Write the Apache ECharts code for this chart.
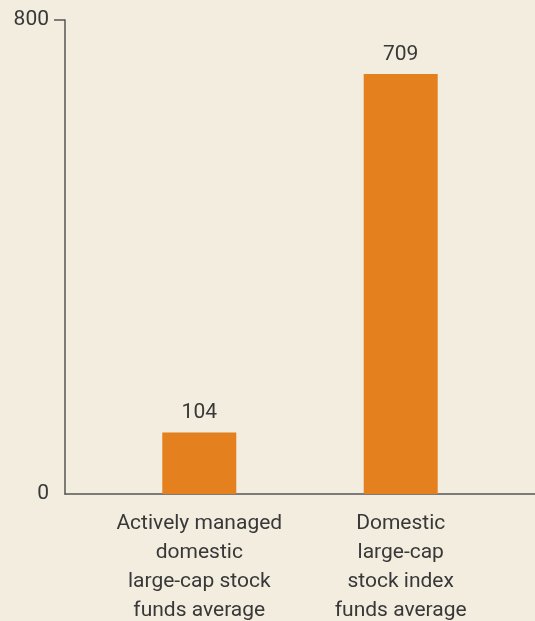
<!DOCTYPE html>
<html style="height: 100%">
<head>
    <meta charset="UTF-8">
    <title>Fund averages</title>
    <script src="https://cdn.jsdelivr.net/npm/echarts@6/dist/echarts.min.js"></script>
</head>
<body style="height: 100%; margin: 0; background: #f3ede0;">
    <div id="main" style="width: 535px; height: 621px;"></div>
    <script>
        // data
        var categories = [
            'Actively managed\ndomestic\nlarge-cap stock\nfunds average',
            'Domestic\nlarge-cap\nstock index\nfunds average'
        ];
        var values = [104, 709];
        // where each bar sits on the hidden x scale (0 .. 3.5)
        var slots = [1, 2.5];
        var yTicks = [0, 800];

        var font = 'Roboto, sans-serif';
        var textColor = '#383838';
        var lineColor = '#555555';

        var myChart = echarts.init(document.getElementById('main'));

        var option = {
            backgroundColor: '#f3ede0',
            animation: false,
            grid: { left: 65, right: 0, top: 20, bottom: 127, containLabel: false, outerBoundsMode: 'none' },
            xAxis: {
                type: 'value',
                min: 0,
                max: 3.5,
                interval: 0.5,
                splitLine: { show: false },
                axisTick: { show: false },
                axisLine: { show: true, lineStyle: { color: lineColor, width: 1.5 } },
                axisLabel: {
                    customValues: slots,
                    margin: 15,
                    fontFamily: font,
                    fontSize: 21,
                    lineHeight: 29,
                    color: textColor,
                    align: 'center',
                    formatter: function (v) {
                        var i = slots.indexOf(v);
                        return i >= 0 ? categories[i] : '';
                    }
                }
            },
            yAxis: {
                type: 'value',
                min: yTicks[0],
                max: yTicks[1],
                interval: 800,
                splitLine: { show: false },
                axisLine: { show: true, lineStyle: { color: lineColor, width: 1.5 } },
                axisTick: {
                    show: true,
                    customValues: [yTicks[1]],
                    length: 11,
                    lineStyle: { color: lineColor, width: 1.5 }
                },
                axisLabel: {
                    customValues: yTicks,
                    margin: 16,
                    fontFamily: font,
                    fontSize: 21,
                    color: textColor
                }
            },
            series: [{
                type: 'bar',
                barWidth: 74,
                data: values.map(function (v, i) { return [slots[i], v]; }),
                itemStyle: { color: '#e4801d' },
                label: {
                    show: true,
                    position: 'top',
                    distance: 9,
                    fontFamily: font,
                    fontSize: 21,
                    color: textColor,
                    formatter: function (p) { return p.value[1]; }
                }
            }]
        };

        myChart.setOption(option);
    </script>
</body>
</html>
